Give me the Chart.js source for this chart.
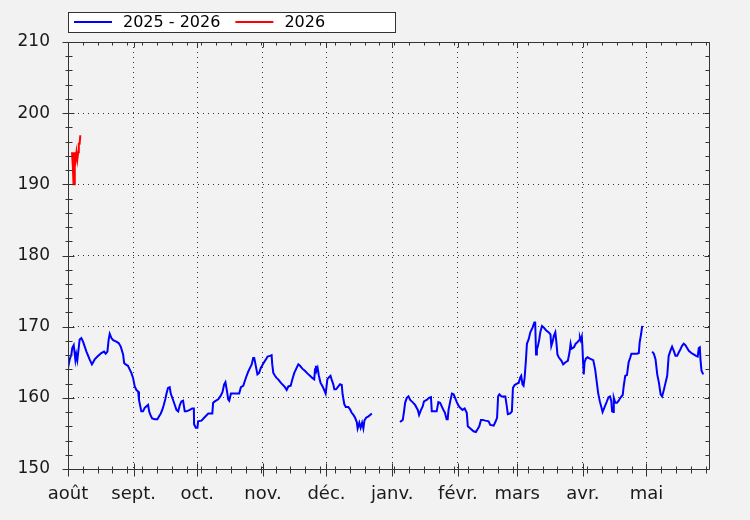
<!DOCTYPE html>
<html>
<head>
<meta charset="utf-8">
<title>2025 - 2026</title>
<script src="https://cdn.jsdelivr.net/npm/chart.js@4.4.1/dist/chart.umd.min.js"></script>
<style>
  html, body { margin: 0; padding: 0; background: #f2f2f2; }
  #wrap { width: 750px; height: 520px; }
</style>
</head>
<body>
<div id="wrap"><canvas id="chart" width="750" height="520"></canvas></div>
<script>
// x = days since 1 Aug, month ticks at month starts
const monthStarts = [0, 31, 61, 92, 122, 153, 184, 212, 243, 273];
const monthLabels = ['août', 'sept.', 'oct.', 'nov.', 'déc.', 'janv.', 'févr.', 'mars', 'avr.', 'mai'];
const lastDay = 303;
const yMin = 150;
const yMax = 210;

// 2025 - 2026 (null = no data)
const blueDays = [
  0, 0.8, 1.6, 2.0, 2.7, 3.5, 3.9, 4.4, 5.5, 6.3, 7.1, 7.9, 8.7, 10.2, 11.3, 12.6, 13.9, 15.7, 17.0, 17.8,
  18.6, 19.2, 19.7, 20.5, 21.3, 22.8, 23.9, 24.9, 26.0, 26.5, 27.2, 28.3, 29.1, 29.9, 30.7, 31.5, 32.3, 33.1, 33.5, 34.0,
  34.6, 35.4, 36.2, 37.0, 37.8, 38.3, 38.9, 39.7, 41.0, 42.2, 43.0, 43.8, 44.6, 45.2, 46.0, 46.5, 47.2, 48.0, 48.5, 49.6,
  50.4, 51.2, 52.0, 52.8, 53.5, 54.3, 55.1, 55.9, 57.5, 58.6, 59.4, 59.5, 60.3, 61.1, 61.4, 63.0, 64.6, 66.2, 68.1, 68.5,
  69.3, 70.9, 72.1, 72.9, 73.7, 74.3, 75.0, 75.6, 76.1, 76.9, 78.8, 80.8, 81.6, 82.7, 83.5, 84.3, 85.1, 85.9, 86.7, 87.4,
  87.9, 88.5, 89.4, 90.2, 91.0, 92.1, 93.4, 94.2, 95.3, 96.1, 96.4, 96.9, 97.7, 98.4, 99.2, 100.5, 102.4, 103.2, 104.0, 105.1,
  105.8, 106.8, 107.9, 108.7, 109.5, 110.6, 111.8, 113.1, 114.2, 115.3, 116.2, 116.6, 117.0, 117.3, 117.8, 118.4, 119.2, 120.0, 120.8, 121.6,
  121.9, 122.4, 123.2, 123.9, 124.4, 125.2, 125.7, 126.5, 127.6, 128.4, 129.2, 129.6, 130.4, 131.1, 132.3, 133.1, 133.9, 134.7, 135.5, 136.3,
  136.7, 137.5, 138.1, 138.8, 139.4, 139.9, 140.7, 141.8, 142.6, 143.4, 150,
  156.7, 158.0, 158.6, 159.1, 159.9, 160.7, 161.5, 162.6, 163.8, 165.1, 165.7, 166.6, 167.4, 168.0, 169.3, 170.4, 171.3, 171.7, 173.3, 174.0,
  174.8, 175.6, 176.4, 177.2, 177.9, 178.7, 179.2, 179.6, 180.4, 181.2, 182.0, 182.7, 183.5, 184.3, 185.1, 186.2, 187.2, 188.2, 188.7, 189.5,
  190.3, 191.4, 192.5, 193.3, 194.1, 194.9, 195.7, 197.0, 198.5, 199.3, 200.9, 201.7, 202.5, 203.0, 203.6, 204.6, 206.4, 207.1, 207.6, 208.7,
  209.5, 210.0, 210.8, 211.9, 212.7, 213.5, 213.9, 214.5, 215.0, 215.5, 216.1, 216.6, 217.4, 218.2, 219.3, 220.1, 220.5, 220.9, 221.3, 221.8,
  222.4, 222.9, 223.7, 224.5, 225.6, 226.9, 227.7, 228.1, 228.8, 229.3, 230.0, 230.5, 231.0, 231.6, 232.9, 233.7, 234.8, 235.9, 236.7, 237.2,
  237.7, 238.8, 239.6, 240.4, 241.2, 241.6, 242.0, 242.5, 242.8, 243.1, 243.4, 243.8, 244.4, 245.2, 246.3, 247.9, 248.8, 249.4, 250.2, 251.0,
  251.8, 252.3, 253.1, 254.2, 255.1, 255.8, 256.4, 256.8, 257.3, 257.6, 258.3, 259.1, 259.9, 260.7, 261.8, 262.3, 263.0, 263.8, 264.6, 265.4,
  265.9, 267.0, 268.6, 269.4, 269.8, 270.5, 271.0, 273,
  275.7, 276.5, 277.3, 278.1, 278.9, 279.7, 280.4, 281.2, 282.0, 282.8, 283.5, 284.3, 285.1, 285.9, 286.7, 287.5, 288.3, 289.0, 289.8, 290.6,
  291.4, 292.2, 293.0, 294.2, 295.3, 296.4, 297.2, 297.7, 298.2, 298.5, 299.0, 299.8
];
const blueValues = [
  164.2, 165.4, 166.1, 167.0, 167.4, 165.3, 166.1, 165.3, 168.2, 168.4, 167.9, 167.2, 166.5, 165.4, 164.7, 165.4, 165.8, 166.3, 166.5, 166.2,
  166.5, 168.2, 169.0, 168.4, 168.1, 167.9, 167.7, 167.2, 166.1, 164.9, 164.7, 164.5, 164.0, 163.5, 162.8, 161.6, 161.1, 160.9, 159.7, 159.0,
  158.1, 158.1, 158.6, 158.8, 159.0, 158.1, 157.6, 157.1, 157.0, 157.0, 157.4, 157.8, 158.4, 159.0, 159.9, 160.6, 161.4, 161.5, 160.6, 159.7,
  159.0, 158.3, 158.1, 159.0, 159.5, 159.6, 158.1, 158.1, 158.3, 158.5, 158.5, 156.3, 155.8, 155.8, 156.7, 156.8, 157.3, 157.8, 157.8, 159.3,
  159.5, 159.8, 160.3, 160.8, 161.9, 162.2, 161.0, 159.8, 159.6, 160.6, 160.6, 160.6, 161.5, 161.7, 162.4, 163.1, 163.7, 164.2, 164.7, 165.6,
  165.6, 164.7, 163.3, 163.5, 164.2, 164.8, 165.4, 165.8, 165.9, 166.0, 164.7, 163.5, 163.1, 162.8, 162.6, 162.1, 161.5, 161.1, 161.6, 161.7,
  162.5, 163.5, 164.2, 164.7, 164.5, 164.1, 163.8, 163.4, 163.1, 162.8, 162.6, 164.0, 164.5, 163.8, 164.2, 163.1, 162.1, 161.7, 161.2, 160.6,
  161.3, 162.6, 162.9, 163.1, 162.6, 161.9, 161.2, 161.2, 161.6, 161.9, 161.8, 160.5, 159.1, 158.7, 158.7, 158.4, 157.9, 157.6, 157.2, 156.6,
  155.7, 156.5, 155.8, 156.5, 155.7, 156.8, 157.2, 157.4, 157.6, 157.8, null,
  156.6, 156.9, 158.1, 159.3, 160.0, 160.2, 159.7, 159.4, 159.0, 158.3, 157.6, 158.3, 158.8, 159.5, 159.7, 160.0, 160.1, 158.1, 158.1, 158.1,
  159.4, 159.3, 158.8, 158.3, 157.9, 157.0, 157.0, 158.3, 159.5, 160.6, 160.5, 160.0, 159.4, 158.9, 158.6, 158.3, 158.5, 157.9, 156.0, 155.8,
  155.6, 155.3, 155.2, 155.6, 156.0, 156.9, 156.9, 156.8, 156.7, 156.2, 156.1, 156.6, 157.2, 160.2, 160.5, 160.2, 160.2, 158.8, 157.7, 157.8,
  158.1, 161.4, 161.8, 162.0, 162.1, 162.9, 163.1, 161.9, 161.7, 162.8, 165.2, 167.6, 168.2, 169.2, 169.9, 170.6, 170.6, 166.1, 166.8, 167.3,
  168.2, 169.2, 170.1, 169.9, 169.5, 169.2, 168.9, 167.3, 168.0, 168.7, 169.2, 167.8, 166.1, 165.7, 165.2, 164.7, 165.0, 165.2, 166.4, 167.6,
  166.9, 167.1, 167.6, 167.8, 168.1, 168.5, 168.1, 168.6, 167.1, 165.0, 163.3, 165.0, 165.5, 165.7, 165.5, 165.3, 164.0, 162.6, 160.7, 159.5,
  158.6, 158.0, 158.6, 159.4, 160.1, 160.2, 159.6, 158.1, 158.0, 160.0, 159.3, 159.3, 159.6, 160.0, 160.4, 161.7, 163.1, 163.2, 165.0, 165.7,
  166.2, 166.2, 166.2, 166.3, 167.8, 169.0, 170.1, null,
  166.5, 166.2, 165.4, 163.3, 162.1, 160.5, 160.2, 161.1, 162.1, 163.1, 165.9, 166.6, 167.2, 166.6, 165.9, 165.9, 166.4, 166.8, 167.3, 167.6,
  167.4, 167.0, 166.6, 166.3, 166.1, 165.9, 165.8, 167.0, 167.1, 165.4, 163.8, 163.3
];

// 2026
const redDays = [1.9, 2.3, 2.6, 3.1, 3.2, 3.6, 4.0, 4.4, 4.8, 5.1, 5.5, 5.8, 6.1];
const redValues = [194.5, 192.4, 190.0, 190.0, 194.5, 193.5, 194.5, 193.5, 194.5, 195.7, 195.7, 196.9, 196.9];

const axisColor = '#333';
const textColor = '#1a1a1a';
const font = 'DejaVu Sans';

const toPoints = (xs, ys) => xs.map((x, i) => ({ x: x, y: ys[i] }));

// frame round the plot, with tick marks on all four sides
const frame = {
  id: 'frame',
  afterDatasetsDraw(chart) {
    const { ctx, chartArea: a, scales } = chart;
    const L = Math.floor(a.left) + 0.5;
    const R = Math.floor(a.right) - 0.5;
    const T = Math.floor(a.top) + 0.5;
    const B = Math.floor(a.bottom) + 0.5;
    ctx.save();
    ctx.strokeStyle = axisColor;
    ctx.lineWidth = 1;
    ctx.beginPath();
    ctx.moveTo(L, T); ctx.lineTo(R, T); ctx.lineTo(R, B); ctx.lineTo(L, B); ctx.closePath();
    for (let v = yMin; v <= yMax; v += 2) {
      const py = Math.round(scales.y.getPixelForValue(v)) + 0.5;
      const big = v % 10 === 0;
      ctx.moveTo(L - (big ? 6 : 3), py); ctx.lineTo(L + (big ? 6 : 4), py);
      ctx.moveTo(R - (big ? 5 : 4), py); ctx.lineTo(R, py);
    }
    for (let d = 0; d <= lastDay; d += 7) {
      const px = Math.round(scales.x.getPixelForValue(d)) + 0.5;
      ctx.moveTo(px, B - 3); ctx.lineTo(px, B + 4);
      ctx.moveTo(px, T); ctx.lineTo(px, T + 3);
    }
    monthStarts.forEach(d => {
      const px = Math.round(scales.x.getPixelForValue(d)) + 0.5;
      ctx.moveTo(px, B - 6); ctx.lineTo(px, B + 7);
      ctx.moveTo(px, T); ctx.lineTo(px, T + 5);
    });
    ctx.stroke();
    ctx.restore();
  },
  afterDraw(chart) {
    // boxed legend, top left
    const { ctx } = chart;
    ctx.save();
    ctx.fillStyle = '#fff';
    ctx.strokeStyle = axisColor;
    ctx.lineWidth = 1;
    ctx.fillRect(68.5, 12.5, 327, 20);
    ctx.strokeRect(68.5, 12.5, 327, 20);
    ctx.font = '16px "' + font + '"';
    ctx.textBaseline = 'middle';
    let x = 74;
    chart.data.datasets.forEach(ds => {
      ctx.strokeStyle = ds.borderColor;
      ctx.lineWidth = 2;
      ctx.beginPath();
      ctx.moveTo(x, 22); ctx.lineTo(x + 38, 22);
      ctx.stroke();
      x += 49;
      ctx.fillStyle = '#000';
      ctx.fillText(ds.label, x, 22.5);
      x += ctx.measureText(ds.label).width + 15;
    });
    ctx.restore();
  }
};

new Chart(document.getElementById('chart'), {
  type: 'line',
  data: {
    datasets: [
      {
        label: '2025 - 2026',
        data: toPoints(blueDays, blueValues),
        borderColor: '#0000ff',
        borderWidth: 2,
        pointRadius: 0,
        tension: 0,
        spanGaps: false
      },
      {
        label: '2026',
        data: toPoints(redDays, redValues),
        borderColor: '#ff0000',
        borderWidth: 2,
        pointRadius: 0,
        tension: 0
      }
    ]
  },
  options: {
    responsive: false,
    animation: false,
    devicePixelRatio: 1,
    layout: { padding: { top: 42, right: 40, left: 0, bottom: 0 } },
    plugins: {
      legend: { display: false },
      tooltip: { enabled: false }
    },
    scales: {
      x: {
        type: 'linear',
        min: 0,
        max: lastDay,
        afterFit(scale) { scale.height = 51; },
        afterBuildTicks(scale) { scale.ticks = monthStarts.map(v => ({ value: v })); },
        ticks: {
          autoSkip: false,
          maxRotation: 0,
          padding: 15,
          color: textColor,
          font: { family: font, size: 18 },
          callback: v => monthLabels[monthStarts.indexOf(v)]
        },
        grid: { color: axisColor, drawTicks: false, lineWidth: (c) => (c.index === 0 ? 0 : 1) },
        border: { display: false, dash: [1, 4] }
      },
      y: {
        min: yMin,
        max: yMax,
        afterFit(scale) { scale.width = 68; },
        ticks: {
          stepSize: 10,
          padding: 18,
          color: textColor,
          font: { family: font, size: 17 }
        },
        grid: { color: axisColor, drawTicks: false, lineWidth: (c) => (c.tick.value === yMin || c.tick.value === yMax ? 0 : 1) },
        border: { display: false, dash: [1, 4] }
      }
    }
  },
  plugins: [frame]
});
</script>
</body>
</html>
